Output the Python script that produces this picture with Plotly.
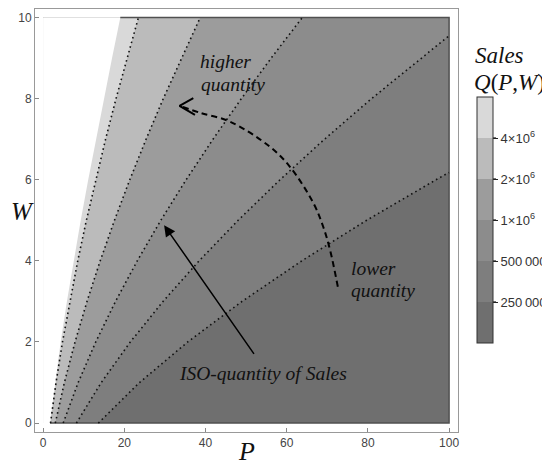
import plotly.graph_objects as go

# ---- data ----
P_MAX = 100
W_MAX = 10

# iso-quantity boundaries (P values at given W)
W_grid = [0, 1, 2, 3, 4, 5, 6, 7, 8, 9, 10]
edge_P = [1.69, 2.92, 4.32, 5.86, 7.52, 9.27, 11.11, 13.02, 14.98, 16.98, 19.02]   # domain edge (white)
iso_4e6_P = [1.82, 3.18, 4.77, 6.56, 8.53, 10.66, 12.95, 15.39, 17.96, 20.66, 23.48]
iso_2e6_P = [3.0, 5.24, 7.86, 10.81, 14.06, 17.58, 21.35, 25.36, 29.60, 34.05, 38.70]
iso_1e6_P = [4.95, 8.64, 12.96, 17.83, 23.19, 29.00, 35.23, 41.85, 48.84, 56.18, 63.85]
iso_5e5_P = [8.2, 14.32, 21.48, 29.54, 38.42, 48.04, 58.36, 69.32, 80.90, 93.06, 100]
iso_5e5_W = [0, 1, 2, 3, 4, 5, 6, 7, 8, 9, 9.55]
iso_25e4_P = [13.6, 23.75, 35.62, 49.0, 63.72, 79.68, 96.79, 100]
iso_25e4_W = [0, 1, 2, 3, 4, 5, 6, 6.18]

levels = [250000, 500000, 1000000, 2000000, 4000000]
level_labels = ["250\u2009000", "500\u2009000", "1×10<sup>6</sup>", "2×10<sup>6</sup>", "4×10<sup>6</sup>"]
band_colors = ["#6f6f6f", "#7e7e7e", "#8c8c8c", "#9c9c9c", "#bbbbbb", "#d9d9d9"]

# annotation arc (dashed)
arc_P = [72.6, 70.7, 69.0, 66.6, 60.8, 55.9, 46.1, 38.7, 33.7]
arc_W = [3.36, 4.26, 4.84, 5.42, 6.32, 6.81, 7.43, 7.65, 7.82]
chev_P = [37.0, 33.6, 37.4]
chev_W = [8.01, 7.82, 7.60]

fig = go.Figure()

def region_left(P, W, color):
    xs = list(P)
    ys = list(W)
    if W[-1] < W_MAX:
        xs += [P_MAX]
        ys += [W_MAX]
    xs += [0, 0]
    ys += [W_MAX, 0]
    fig.add_trace(go.Scatter(x=xs, y=ys, fill="toself", fillcolor=color,
                             mode="lines", line=dict(width=0, color=color),
                             hoverinfo="skip", showlegend=False))

# darkest background band
fig.add_trace(go.Scatter(x=[0, P_MAX, P_MAX, 0], y=[0, 0, W_MAX, W_MAX], fill="toself",
                         fillcolor=band_colors[0], mode="lines",
                         line=dict(width=0, color=band_colors[0]),
                         hoverinfo="skip", showlegend=False))
region_left(iso_25e4_P, iso_25e4_W, band_colors[1])
region_left(iso_5e5_P, iso_5e5_W, band_colors[2])
region_left(iso_1e6_P, W_grid, band_colors[3])
region_left(iso_2e6_P, W_grid, band_colors[4])
region_left(iso_4e6_P, W_grid, band_colors[5])
region_left(edge_P, W_grid, "#ffffff")

# region border (bottom, right, top)
fig.add_trace(go.Scatter(x=[edge_P[0], P_MAX, P_MAX, edge_P[-1]], y=[0, 0, W_MAX, W_MAX],
                         mode="lines", line=dict(color="#505050", width=1.5),
                         hoverinfo="skip", showlegend=False))

# dotted iso-lines
for P, W in [(iso_4e6_P, W_grid), (iso_2e6_P, W_grid), (iso_1e6_P, W_grid),
             (iso_5e5_P, iso_5e5_W), (iso_25e4_P, iso_25e4_W)]:
    fig.add_trace(go.Scatter(x=P, y=W, mode="lines",
                             line=dict(color="#111111", width=1.6, dash="1.6px,3.2px"),
                             hoverinfo="skip", showlegend=False))

# dashed arc + open arrow head
fig.add_trace(go.Scatter(x=arc_P, y=arc_W, mode="lines", line_shape="spline",
                         line=dict(color="black", width=2, dash="6px,4px"),
                         hoverinfo="skip", showlegend=False))
fig.add_trace(go.Scatter(x=chev_P, y=chev_W, mode="lines",
                         line=dict(color="black", width=2),
                         hoverinfo="skip", showlegend=False))

# page body has an 8px margin; plot frame spans 35..458 x 9..432 in window pixels
OFF = 8
FRAME_L, FRAME_R, FRAME_T, FRAME_B = 35, 458, 9, 432

def px_x(x):
    return (x - FRAME_L) / (FRAME_R - FRAME_L)

def px_y(y):
    return (FRAME_B - y) / (FRAME_B - FRAME_T)

# colorbar carrier
n = len(band_colors)
cs = []
for i, c in enumerate(band_colors):
    cs.append([i / n, c])
    cs.append([(i + 1) / n, c])
CB_L, CB_R, CB_T, CB_B = 477, 493, 97, 343
fig.add_trace(go.Scatter(x=[-50, -50], y=[-50, -50], mode="markers",
                         marker=dict(color=[0, n], cmin=0, cmax=n, colorscale=cs,
                                     showscale=True,
                                     colorbar=dict(
                                         x=px_x(CB_L), xanchor="left", xpad=0,
                                         y=px_y((CB_T + CB_B) / 2), yanchor="middle", ypad=0,
                                         lenmode="pixels", len=CB_B - CB_T,
                                         thickness=CB_R - CB_L,
                                         outlinecolor="#333333", outlinewidth=1,
                                         tickvals=[1, 2, 3, 4, 5],
                                         ticktext=level_labels,
                                         ticks="outside", ticklen=5, tickcolor="#222",
                                         tickfont=dict(family="Liberation Sans", size=13, color="#333"))),
                         hoverinfo="skip", showlegend=False))

# tick lines crossing the colorbar
for k in range(1, n):
    yk = CB_B - k * (CB_B - CB_T) / n
    fig.add_shape(type="line", xref="paper", yref="paper",
                  x0=px_x(CB_L), x1=px_x(CB_R + 3), y0=px_y(yk), y1=px_y(yk),
                  line=dict(color="#222", width=1.3))

serif = "Liberation Serif"
TXT = dict(family=serif, size=19.5, color="#111")
ann = [
    dict(x=38.2, y=8.91, text="<i>higher</i>", xanchor="left", yanchor="middle",
         showarrow=False, font=TXT),
    dict(x=38.4, y=8.36, text="<i>quantity</i>", xanchor="left", yanchor="middle",
         showarrow=False, font=TXT),
    dict(x=75.4, y=3.80, text="<i>lower</i>", xanchor="left", yanchor="middle",
         showarrow=False, font=TXT),
    dict(x=75.4, y=3.28, text="<i>quantity</i>", xanchor="left", yanchor="middle",
         showarrow=False, font=TXT),
    dict(x=32.9, y=1.22, text="<i>ISO-quantity of Sales</i>", xanchor="left", yanchor="middle",
         showarrow=False, font=TXT),
    dict(x=29.8, y=4.88, ax=52.2, ay=1.67, axref="x", ayref="y", text="",
         showarrow=True, arrowhead=2, arrowsize=1.5, arrowwidth=1.5, arrowcolor="black"),
]
fig.update_layout(annotations=ann)

for txt, x, y, size, xa in [("<i>P</i>", 247, 451, 26, "center"), ("<i>W</i>", 9, 211, 25, "left"),
                            ("<i>Sales</i>", 473, 55, 23, "left"),
                            ("<i>Q</i>(<i>P</i>,<i>W</i>)", 472, 82, 23, "left")]:
    fig.add_annotation(x=px_x(x), y=px_y(y), xref="paper", yref="paper", text=txt,
                       showarrow=False, xanchor=xa, yanchor="middle",
                       font=dict(family=serif, size=size, color="#111"))

fig.update_layout(
    width=550 - OFF, height=465 - OFF,
    margin=dict(l=FRAME_L - OFF, r=550 - FRAME_R, t=FRAME_T - OFF, b=465 - FRAME_B),
    paper_bgcolor="white", plot_bgcolor="white",
    xaxis=dict(range=[-2, 102.2], tickvals=[0, 20, 40, 60, 80, 100], ticks="inside", ticklen=4,
               tickcolor="#888", showline=True, mirror=True, linecolor="#999", linewidth=1,
               showgrid=False, zeroline=False,
               tickfont=dict(family="Liberation Sans", size=12, color="#444")),
    yaxis=dict(range=[-0.22, 10.21], tickvals=[0, 2, 4, 6, 8, 10], ticks="inside", ticklen=4,
               tickcolor="#888", showline=True, mirror=True, linecolor="#999", linewidth=1,
               showgrid=False, zeroline=False,
               tickfont=dict(family="Liberation Sans", size=12, color="#444")),
)

fig.write_html("out.html")
